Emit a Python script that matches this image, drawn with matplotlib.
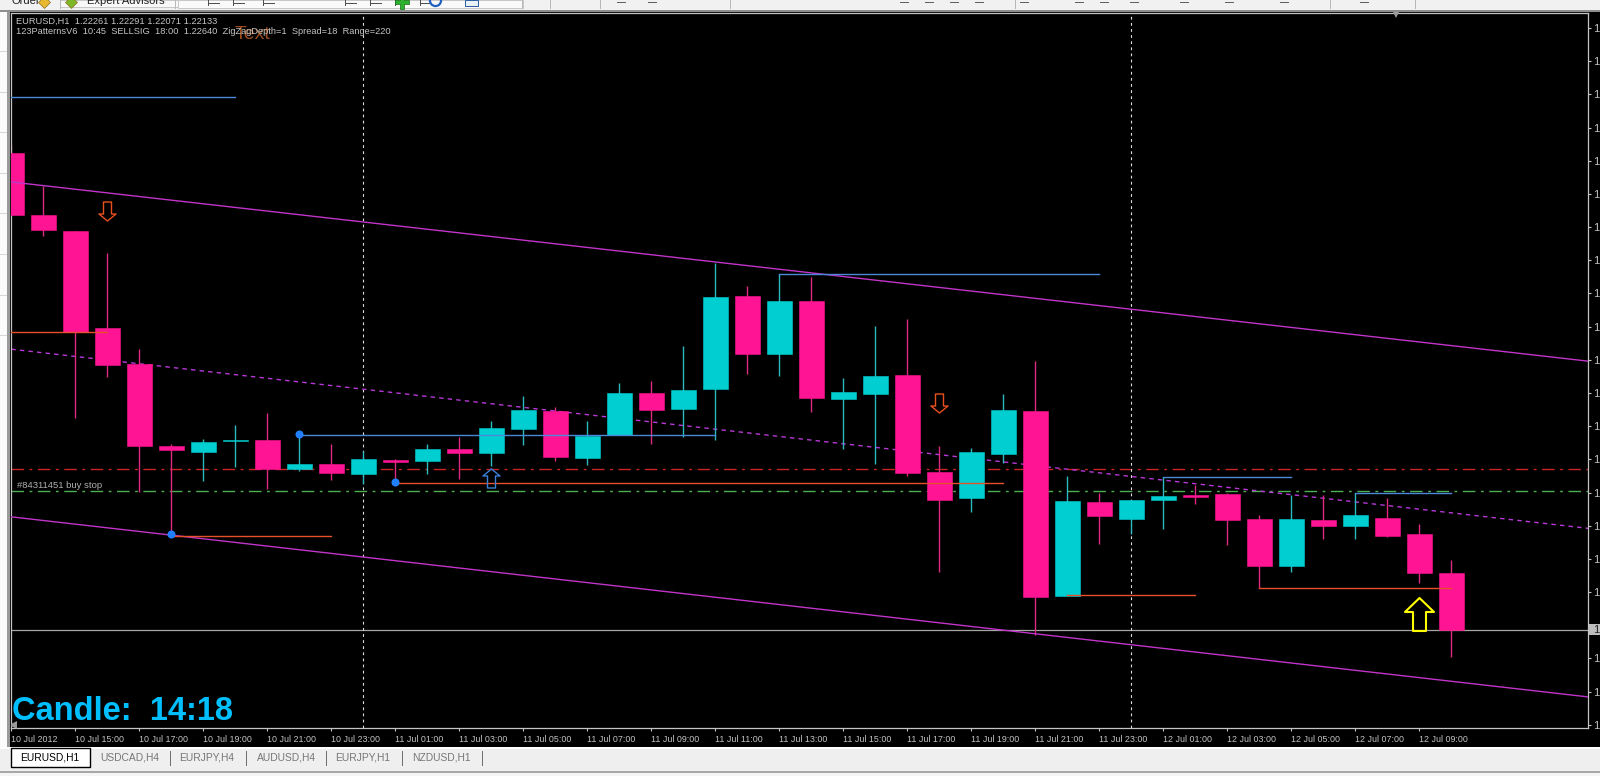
import numpy as np
import matplotlib
matplotlib.use("Agg")
import matplotlib.pyplot as plt
from matplotlib.patches import Rectangle
from matplotlib.path import Path
from matplotlib.markers import MarkerStyle

opens = [1.23210,1.23070,1.23034,1.22815,1.22733,1.22548,1.22535,1.22560,1.22562,1.22496,
         1.22507,1.22485,1.22516,1.22514,1.22541,1.22532,1.22587,1.22627,1.22521,1.22573,
         1.22668,1.22632,1.22677,1.22887,1.22756,1.22876,1.22654,1.22666,1.22709,1.22489,
         1.22431,1.22530,1.22627,1.22209,1.22422,1.22383,1.22426,1.22437,1.22440,1.22383,
         1.22277,1.22381,1.22367,1.22386,1.22349,1.22261]
highs = [1.23228,1.23136,1.23034,1.22984,1.22767,1.22553,1.22564,1.22596,1.22623,1.22575,
         1.22553,1.22537,1.22519,1.22553,1.22568,1.22605,1.22661,1.22636,1.22605,1.22690,
         1.22695,1.22774,1.22962,1.22910,1.22937,1.22930,1.22702,1.22819,1.22835,1.22548,
         1.22544,1.22666,1.22740,1.22480,1.22442,1.22426,1.22478,1.22460,1.22442,1.22392,
         1.22437,1.22437,1.22442,1.22431,1.22372,1.22291]
lows = [1.23070,1.23023,1.22612,1.22705,1.22444,1.22351,1.22470,1.22500,1.22451,1.22492,
        1.22471,1.22462,1.22467,1.22485,1.22474,1.22503,1.22550,1.22514,1.22505,1.22573,
        1.22553,1.22568,1.22562,1.22711,1.22706,1.22625,1.22541,1.22507,1.22480,1.22263,
        1.22399,1.22510,1.22121,1.22209,1.22327,1.22349,1.22361,1.22417,1.22325,1.22227,
        1.22263,1.22338,1.22338,1.22342,1.22239,1.22071]
closes = [1.23070,1.23037,1.22807,1.22731,1.22549,1.22539,1.22557,1.22561,1.22497,1.22507,
          1.22487,1.22519,1.22512,1.22541,1.22532,1.22589,1.22629,1.22523,1.22571,1.22668,
          1.22629,1.22675,1.22885,1.22756,1.22876,1.22657,1.22670,1.22706,1.22487,1.22426,
          1.22535,1.22629,1.22207,1.22424,1.22390,1.22426,1.22435,1.22433,1.22381,1.22277,
          1.22383,1.22367,1.22392,1.22345,1.22261,1.22133]

time_labels = ["10 Jul 2012","10 Jul 15:00","10 Jul 17:00","10 Jul 19:00","10 Jul 21:00","10 Jul 23:00",
               "11 Jul 01:00","11 Jul 03:00","11 Jul 05:00","11 Jul 07:00","11 Jul 09:00","11 Jul 11:00",
               "11 Jul 13:00","11 Jul 15:00","11 Jul 17:00","11 Jul 19:00","11 Jul 21:00","11 Jul 23:00",
               "12 Jul 01:00","12 Jul 03:00","12 Jul 05:00","12 Jul 07:00","12 Jul 09:00"]
price_ticks = [1.21918 + 0.00075 * k for k in range(22)]

channel_x = [0, 49.27]
channel_upper = [1.23145, 1.22740]
channel_mid = [1.22767, 1.22362]
channel_lower = [1.22388, 1.21981]

stop_level = 1.22497
order_level = 1.22446
bid_level = 1.22133
vlines_at = [11, 35]

# horizontal pattern levels: (start bar, end bar, price)
blue_segments = [(0, 7, 1.23338), (9, 22, 1.22573), (24, 34, 1.22936), (36, 40, 1.22478), (42, 45, 1.22442)]
red_segments = [(0, 3, 1.22807), (5, 10, 1.22345), (12, 31, 1.22464), (33, 37, 1.22211), (39, 45, 1.22227)]
dot_x = [5, 9, 12]
dot_y = [1.22349, 1.22576, 1.22467]
# arrows: bar, centre price
arrow_down_x = [3, 29]
arrow_down_y = [1.23080, 1.22646]
arrow_up_small_x = [15]
arrow_up_small_y = [1.22475]
arrow_up_big_x = [44]
arrow_up_big_y = [1.22169]

tab_names = ["USDCAD,H4", "EURJPY,H4", "AUDUSD,H4", "EURJPY,H1", "NZDUSD,H1"]
FONT = "Liberation Sans"
W, H = 1600, 776
PINK, CYAN = "#FF1493", "#00CED1"
PINK_W, CYAN_W = "#DC2A80", "#2DB9BF"
GREY = "#C4C4C4"
PX = 0.72

fig = plt.figure(figsize=(16, 7.76), dpi=100, facecolor="#F0F0F0")

# window chrome
bg = fig.add_axes([0, 0, 1, 1], zorder=0)
bg.set_xlim(0, W); bg.set_ylim(H, 0); bg.axis("off")
bg.add_patch(Rectangle((0, 0), W, 10, fc="#F1F1F1", ec="none"))
bg.add_patch(Rectangle((0, 9.5), W, 2.5, fc="#8E8E8E", ec="none"))
bg.add_patch(Rectangle((0, 12), 7, 736, fc="#FBFBFB", ec="none"))
bg.add_patch(Rectangle((7, 12), 2.5, 736, fc="#9A9A9A", ec="none"))
bg.add_patch(Rectangle((9.5, 12), W, 735, fc="black", ec="none"))
bg.add_patch(Rectangle((0, 747), W, 2, fc="#FFFFFF", ec="none"))
bg.add_patch(Rectangle((0, 749), W, 21, fc="#EFEFEF", ec="none"))
bg.add_patch(Rectangle((0, 771), W, 1.5, fc="#A8A8A8", ec="none"))
bg.add_patch(Rectangle((0, 772.5), W, 4, fc="#F5F5F5", ec="none"))
bg.add_patch(Rectangle((1589, 623.5), 11, 11.5, fc="#BDBDBD", ec="none"))
for y in (51, 92, 132, 173, 213, 254, 295, 335):
    bg.plot([0, 6], [y, y], color="#D8D8D8", lw=PX)
# clipped toolbar
for x in (60, 175, 522, 550, 600, 730, 1015, 1330, 1415):
    bg.plot([x, x], [0, 8], color="#B8B8B8", lw=PX)
bg.add_patch(Rectangle((60, 0), 140, 7, fc="#F8F8F8", ec="#C8C8C8", lw=PX))
bg.add_patch(Rectangle((178, 0), 345, 8, fc="#FAFAFA", ec="#C8C8C8", lw=PX))
bg.text(12, 1, "Order", fontsize=8, family=FONT, color="#202020", va="center")
bg.text(87, 1, "Expert Advisors", fontsize=8, family=FONT, color="#202020", va="center")
for x in (44, 71):
    bg.plot([x], [2], marker="D", ms=6, color="#E8B830" if x == 44 else "#7CB828", mec="#907020", mew=0.5)
for x in (208, 233, 263, 345, 370, 395, 420):
    bg.plot([x, x + 11], [3, 3], color="#505050", lw=PX)
    bg.plot([x, x], [0, 5], color="#505050", lw=PX)
bg.plot([402], [2], marker="P", ms=10, color="#30B030", mec="#107010", mew=0.5)
bg.plot([435], [0], marker="o", ms=8, mfc="none", mec="#2060C0", mew=1.6)
bg.add_patch(Rectangle((465, 0), 13, 6, fc="#E8F0F8", ec="#3060A0", lw=PX))
for x in (617, 648, 900, 925, 950, 975, 1020, 1075, 1100, 1130, 1180, 1225, 1280, 1360):
    bg.plot([x, x + 8], [2, 2], color="#606060", lw=PX)

# tabs
bg.add_patch(Rectangle((11, 748), 79, 19, fc="white", ec="black", lw=1.0))
bg.text(50, 758, "EURUSD,H1", fontsize=7.4, family=FONT, color="black", ha="center", va="center")
tab_x = [130, 207, 286, 363, 441]
sep_x = [170, 246, 326, 402, 482]
for x, name, s in zip(tab_x, tab_names, sep_x):
    bg.text(x, 758, name, fontsize=7.4, family=FONT, color="#777777", ha="center", va="center")
    bg.plot([s, s], [751, 765], color="#707070", lw=PX)

# chart
L, T, R, B = 11, 13, 1588, 728.3
ax = fig.add_axes([L / W, 1 - B / H, (R - L) / W, (B - T) / H], zorder=1, facecolor="black")
ax.set_xlim(-0.01, 49.27)
ax.set_ylim(1.21910, 1.23527)
for s in ax.spines.values():
    s.set_color(GREY); s.set_linewidth(0.9)

x = np.arange(len(opens))
up = [c >= o for o, c in zip(opens, closes)]
body_col = [CYAN if u else PINK for u in up]
wick_col = [CYAN_W if u else PINK_W for u in up]

ax.axhline(stop_level, color="#C82424", lw=1.0, dashes=(9, 4, 2, 4), zorder=1)
ax.axhline(order_level, color="#4CAF50", lw=1.0, dashes=(9, 4, 2, 4), zorder=1)
ax.axhline(bid_level, color="#A6A6A6", lw=0.9, zorder=1)
for v in vlines_at:
    ax.axvline(v, color="#E0E0E0", lw=0.8, dashes=(2.5, 3), zorder=1)
ax.plot(channel_x, channel_mid, color="#B838D8", lw=1.0, dashes=(3.2, 3), zorder=1.5)

ax.vlines(x, lows, highs, colors=wick_col, lw=1.0, zorder=2)
ax.bar(x, np.abs(np.array(closes) - np.array(opens)), bottom=np.minimum(opens, closes),
       width=0.78, color=body_col, edgecolor=body_col, lw=0.4, zorder=3)

ax.plot(channel_x, channel_upper, color="#C035C8", lw=1.0, zorder=4)
ax.plot(channel_x, channel_lower, color="#C035C8", lw=1.0, zorder=4)
for a, b, p in blue_segments:
    ax.plot([a, b], [p, p], color="#4A88D8", lw=1.0, zorder=4)
for a, b, p in red_segments:
    ax.plot([a, b], [p, p], color="#E8502C", lw=1.0, zorder=4)
ax.plot(dot_x, dot_y, ls="none", marker="o", ms=5.8, color="#2080FF", mew=0, zorder=5)


def arrow_marker(h, w, body, head, down=False):
    s = -1 if down else 1
    v = [(0, h / 2), (w / 2, h / 2 - head), (body / 2, h / 2 - head), (body / 2, -h / 2),
         (-body / 2, -h / 2), (-body / 2, h / 2 - head), (-w / 2, h / 2 - head), (0, h / 2)]
    return MarkerStyle(Path([(a, s * b) for a, b in v], closed=True))


ax.plot(arrow_down_x, arrow_down_y, ls="none", marker=arrow_marker(19, 17, 8, 7, True), ms=19 * PX,
        mfc="none", mec="#E8501C", mew=1.0, zorder=6)
ax.plot(arrow_up_small_x, arrow_up_small_y, ls="none", marker=arrow_marker(19, 17, 8, 7), ms=19 * PX,
        mfc="none", mec="#3A80D8", mew=1.0, zorder=6)
ax.plot(arrow_up_big_x, arrow_up_big_y, ls="none", marker=arrow_marker(33, 29, 13, 14), ms=33 * PX,
        mfc="none", mec="#FFFF00", mew=1.5, zorder=6)

ax.yaxis.tick_right()
ax.set_yticks(price_ticks)
# the label level next to the bid is covered by the bid box
ax.set_yticklabels(["" if abs(p - bid_level) < 0.0002 else "1." for p in price_ticks])
ax.tick_params(axis="y", length=2.5, width=0.8, color=GREY, labelcolor=GREY, labelsize=8, pad=1.5)
ax.set_xticks(x[::2][:len(time_labels)])
ax.set_xticklabels(time_labels, ha="left", family=FONT)
ax.tick_params(axis="x", length=2.5, width=0.8, color=GREY, labelcolor=GREY, labelsize=6.4, pad=2.5)
for t in ax.get_yticklabels():
    t.set_family(FONT)

ax.annotate("1.", xy=(1, bid_level), xycoords=("axes fraction", "data"), xytext=(5, 0),
            textcoords="offset pixels", fontsize=8, family=FONT, color="#202020", va="center",
            annotation_clip=False)

tx = ax.transAxes
ax.text(0.0030, 0.9888, "EURUSD,H1  1.22261 1.22291 1.22071 1.22133", transform=tx, fontsize=6.7,
        family=FONT, color=GREY, va="center", zorder=8)
ax.text(0.0030, 0.9742, "123PatternsV6  10:45  SELLSIG  18:00  1.22640  ZigZagDepth=1  Spread=18  Range=220",
        transform=tx, fontsize=6.7, family=FONT, color=GREY, va="center", zorder=8)
ax.text(0.1415, 0.9693, "Text", transform=tx, fontsize=14, family=FONT, color="#9A4C1E", va="center", zorder=7)
ax.text(0.0040, 0.3392, "#84311451 buy stop", transform=tx, fontsize=6.8, family=FONT, color="#B0B0B0",
        va="center", zorder=8)
ax.text(0.0005, 0.0234, "Candle:  14:18", transform=tx, fontsize=23.5, family=FONT, weight="bold",
        color="#00BFFF", va="center", zorder=8)

# shift markers
ax.plot([0.8783], [0.9970], transform=tx, marker="v", ms=5, color="#9A9A9A", mew=0, clip_on=False, zorder=8)
ax.plot([0.0015], [0.0040], transform=tx, marker="<", ms=6, color="#9A9A9A", mew=0, zorder=8)

fig.savefig("out.png", dpi=100, facecolor=fig.get_facecolor())
